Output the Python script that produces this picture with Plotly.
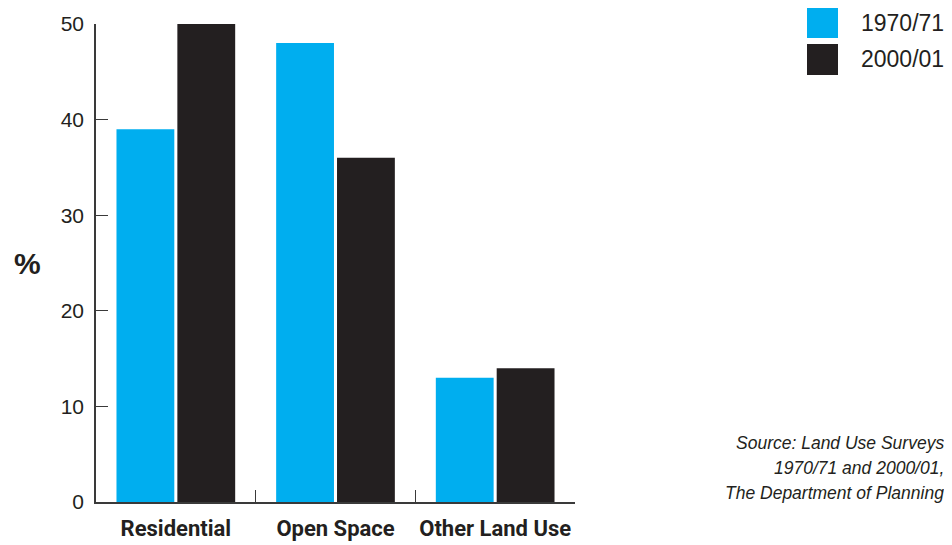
import plotly.graph_objects as go

categories = ["Residential", "Open Space", "Other Land Use"]
series_names = ["1970/71", "2000/01"]
values_1970 = [39, 48, 13]
values_2000 = [50, 36, 14]
y_ticks = [0, 10, 20, 30, 40, 50]
colors = ["#00AEEF", "#231F20"]
source_lines = ["Source: Land Use Surveys", "1970/71 and 2000/01,", "The Department of Planning"]

# page body has an 8px margin, so the figure is sized to fit the window
OFF = 8
W, H = 952 - OFF, 545 - OFF
PL, PR, PT, PB = 96, 575, 24, 502  # plot area in page pixels
ML, MR, MT, MB = PL - OFF, W - (PR - OFF), PT - OFF, H - (PB - OFF)

fig = go.Figure()
for name, vals, col in zip(series_names, [values_1970, values_2000], colors):
    fig.add_trace(go.Bar(x=categories, y=vals, name=name, marker=dict(color=col, line=dict(width=0)),
                         showlegend=False))

axis_col = "#3a3a3a"
fig.update_layout(
    width=W, height=H,
    margin=dict(l=ML, r=MR, t=MT, b=MB, autoexpand=False),
    paper_bgcolor="white", plot_bgcolor="white",
    barmode="group", bargap=0.2375, bargroupgap=0.05,
    font=dict(family="Liberation Sans", color="#231F20"),
    xaxis=dict(
        showline=True, linecolor=axis_col, linewidth=1.5,
        ticks="inside", ticklen=12, tickwidth=1.2, tickcolor=axis_col,
        tickson="boundaries", showgrid=False, zeroline=False, automargin=False,
        tickangle=0,
        tickfont=dict(family="Roboto", size=22, color="#231F20", weight="bold"),
        ticklabelstandoff=6,
    ),
    yaxis=dict(
        range=[0, 50], tickvals=y_ticks, showline=True, linecolor=axis_col, linewidth=1.5,
        ticks="inside", ticklen=12, tickwidth=1.2, tickcolor=axis_col,
        showgrid=False, zeroline=False, automargin=False,
        tickfont=dict(family="Liberation Sans", size=21, color="#231F20"),
        ticklabelstandoff=6,
    ),
)

pw, ph = PR - PL, PB - PT
def px(xp):
    return (xp - PL) / pw
def py(yp):
    return (PB - yp) / ph

# y-axis unit label
fig.add_annotation(text="<b>%</b>", xref="paper", yref="paper", x=px(27), y=py(263),
                   showarrow=False, font=dict(family="Liberation Sans", size=30, color="#231F20"),
                   xanchor="center", yanchor="middle")

# Legend (drawn in paper space)
for i, (name, col) in enumerate(zip(series_names, colors)):
    top = 7 + i * 37
    fig.add_shape(type="rect", xref="paper", yref="paper",
                  x0=px(807), x1=px(838), y0=py(top + 31), y1=py(top),
                  fillcolor=col, line=dict(width=0))
    fig.add_annotation(text=name, xref="paper", yref="paper", x=px(946), y=py(top + 15.5),
                       xanchor="right", yanchor="middle", showarrow=False,
                       font=dict(family="Liberation Sans", size=23, color="#231F20"))

for i, line in enumerate(source_lines):
    fig.add_annotation(text=line, xref="paper", yref="paper",
                       x=px(946), y=py(443 + 25 * i), xanchor="right", yanchor="middle",
                       showarrow=False,
                       font=dict(family="Liberation Sans", size=17.5, color="#231F20", style="italic"))

fig.write_html("out.html")
